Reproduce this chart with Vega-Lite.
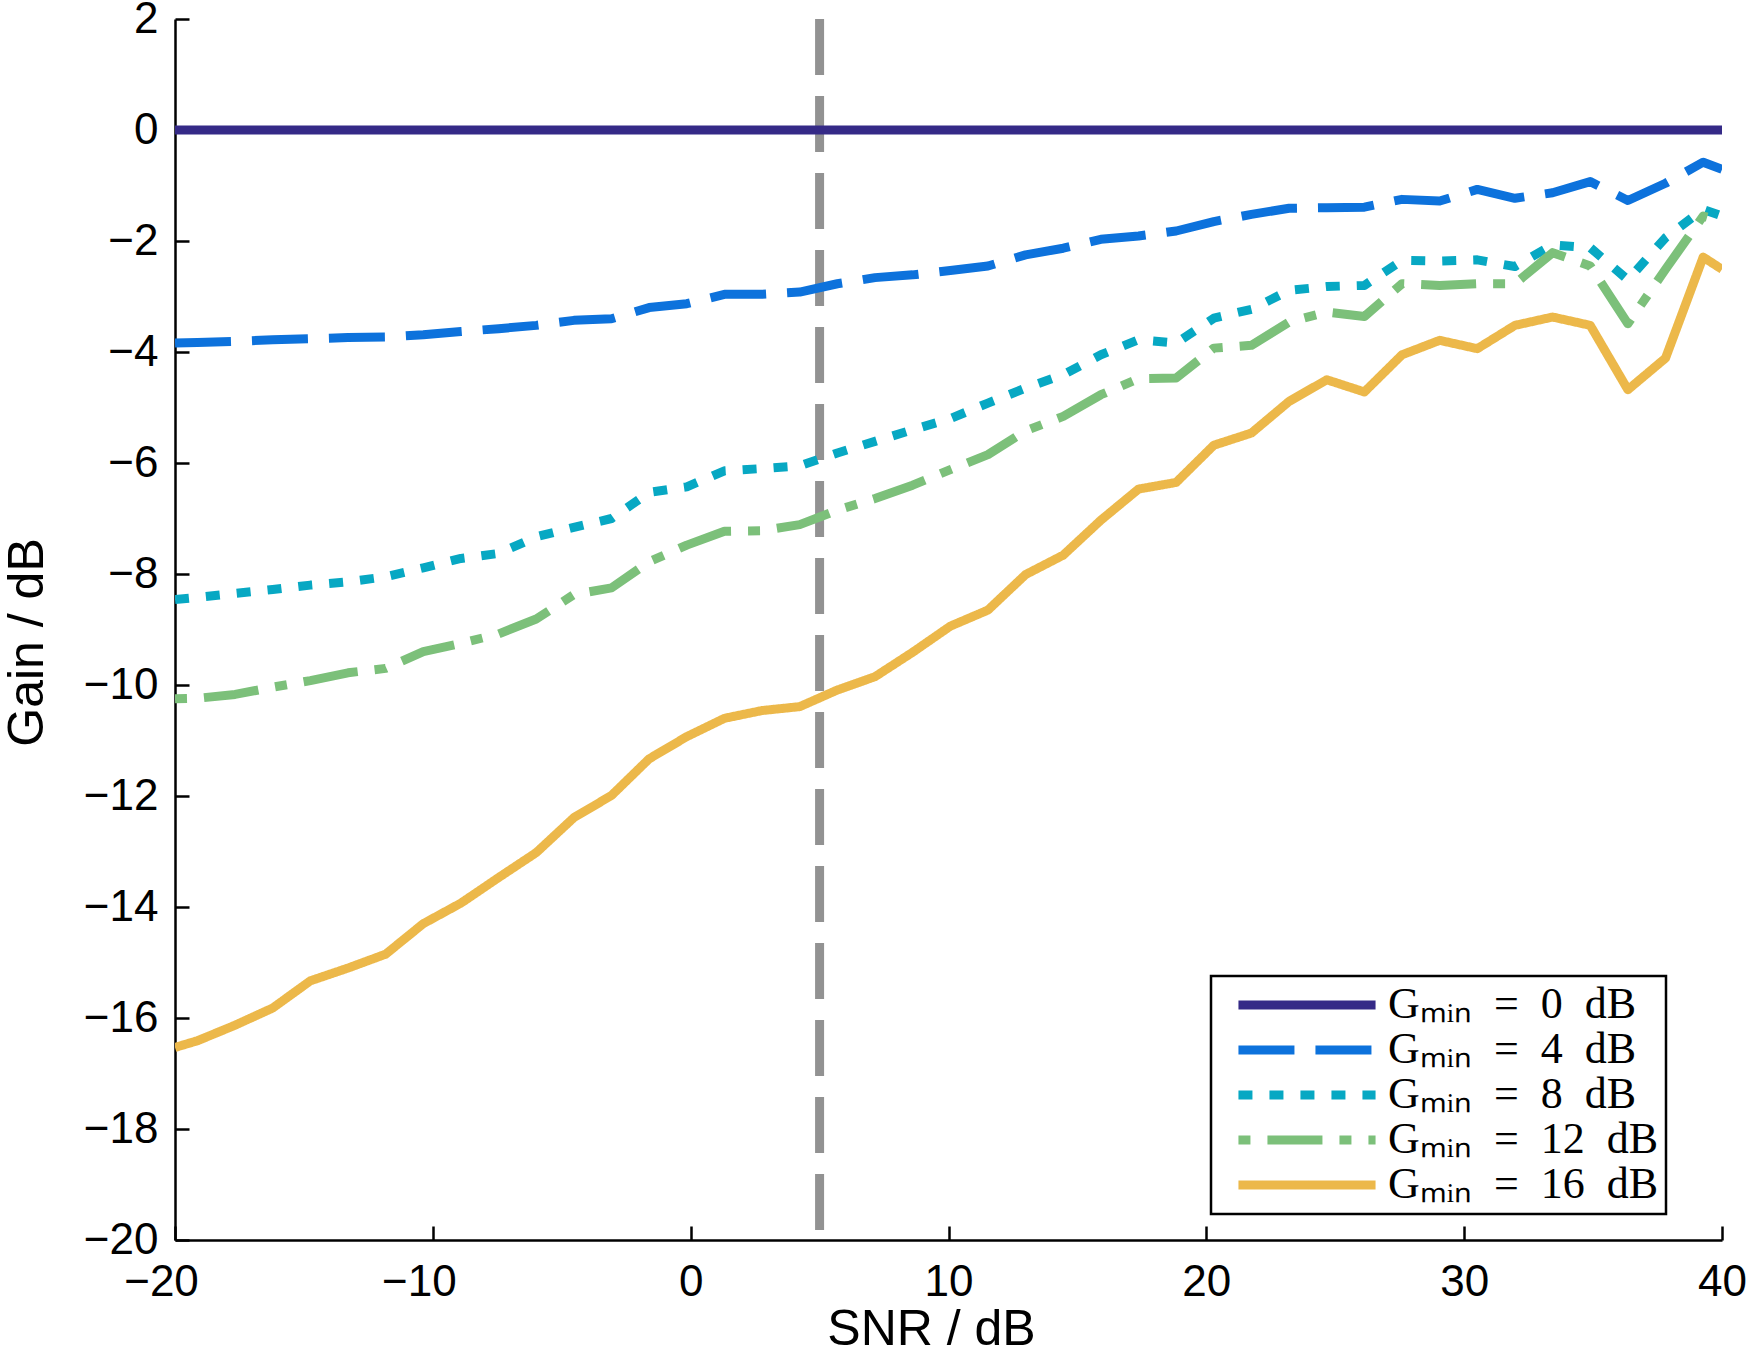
{
  "$schema": "https://vega.github.io/schema/vega-lite/v6.json",
  "width": 1547,
  "height": 1221,
  "autosize": {"type": "none"},
  "padding": {"left": 175, "top": 19, "right": 28, "bottom": 114},
  "background": "white",
  "config": {
    "view": {"stroke": null},
    "axis": {
      "grid": false,
      "domainColor": "black",
      "domainWidth": 2.5,
      "tickColor": "black",
      "tickWidth": 2.5,
      "tickSize": -14,
      "labelFont": "Liberation Sans",
      "labelFontSize": 44,
      "labelColor": "black",
      "labelFlush": false,
      "titleFont": "Liberation Sans",
      "titleFontSize": 50,
      "titleFontWeight": "normal",
      "titleColor": "black"
    }
  },
  "layer": [
    {
      "data": {"values": [{"snr": 5}]},
      "mark": {"type": "rule", "color": "#929292", "strokeWidth": 9, "strokeDash": [56, 21]},
      "encoding": {
        "x": {"field": "snr", "type": "quantitative", "scale": {"domain": [-20, 40], "nice": false, "zero": false}}
      }
    },
    {
      "data": {
        "values": [
          {"snr": -20, "Gₘᵢₙ = 0 dB": 0, "Gₘᵢₙ = 4 dB": -3.84, "Gₘᵢₙ = 8 dB": -8.46, "Gₘᵢₙ = 12 dB": -10.25, "Gₘᵢₙ = 16 dB": -16.53},
          {"snr": -19.13, "Gₘᵢₙ = 0 dB": 0, "Gₘᵢₙ = 4 dB": -3.83, "Gₘᵢₙ = 8 dB": -8.42, "Gₘᵢₙ = 12 dB": -10.24, "Gₘᵢₙ = 16 dB": -16.41},
          {"snr": -17.67, "Gₘᵢₙ = 0 dB": 0, "Gₘᵢₙ = 4 dB": -3.81, "Gₘᵢₙ = 8 dB": -8.35, "Gₘᵢₙ = 12 dB": -10.17, "Gₘᵢₙ = 16 dB": -16.13},
          {"snr": -16.21, "Gₘᵢₙ = 0 dB": 0, "Gₘᵢₙ = 4 dB": -3.78, "Gₘᵢₙ = 8 dB": -8.28, "Gₘᵢₙ = 12 dB": -10.04, "Gₘᵢₙ = 16 dB": -15.82},
          {"snr": -14.75, "Gₘᵢₙ = 0 dB": 0, "Gₘᵢₙ = 4 dB": -3.76, "Gₘᵢₙ = 8 dB": -8.2, "Gₘᵢₙ = 12 dB": -9.92, "Gₘᵢₙ = 16 dB": -15.33},
          {"snr": -13.29, "Gₘᵢₙ = 0 dB": 0, "Gₘᵢₙ = 4 dB": -3.74, "Gₘᵢₙ = 8 dB": -8.14, "Gₘᵢₙ = 12 dB": -9.78, "Gₘᵢₙ = 16 dB": -15.1},
          {"snr": -11.83, "Gₘᵢₙ = 0 dB": 0, "Gₘᵢₙ = 4 dB": -3.73, "Gₘᵢₙ = 8 dB": -8.05, "Gₘᵢₙ = 12 dB": -9.7, "Gₘᵢₙ = 16 dB": -14.85},
          {"snr": -10.37, "Gₘᵢₙ = 0 dB": 0, "Gₘᵢₙ = 4 dB": -3.69, "Gₘᵢₙ = 8 dB": -7.89, "Gₘᵢₙ = 12 dB": -9.4, "Gₘᵢₙ = 16 dB": -14.3},
          {"snr": -8.91, "Gₘᵢₙ = 0 dB": 0, "Gₘᵢₙ = 4 dB": -3.63, "Gₘᵢₙ = 8 dB": -7.72, "Gₘᵢₙ = 12 dB": -9.25, "Gₘᵢₙ = 16 dB": -13.93},
          {"snr": -7.45, "Gₘᵢₙ = 0 dB": 0, "Gₘᵢₙ = 4 dB": -3.58, "Gₘᵢₙ = 8 dB": -7.63, "Gₘᵢₙ = 12 dB": -9.08, "Gₘᵢₙ = 16 dB": -13.47},
          {"snr": -5.99, "Gₘᵢₙ = 0 dB": 0, "Gₘᵢₙ = 4 dB": -3.52, "Gₘᵢₙ = 8 dB": -7.33, "Gₘᵢₙ = 12 dB": -8.81, "Gₘᵢₙ = 16 dB": -13.02},
          {"snr": -4.53, "Gₘᵢₙ = 0 dB": 0, "Gₘᵢₙ = 4 dB": -3.43, "Gₘᵢₙ = 8 dB": -7.16, "Gₘᵢₙ = 12 dB": -8.37, "Gₘᵢₙ = 16 dB": -12.39},
          {"snr": -3.07, "Gₘᵢₙ = 0 dB": 0, "Gₘᵢₙ = 4 dB": -3.4, "Gₘᵢₙ = 8 dB": -7.0, "Gₘᵢₙ = 12 dB": -8.25, "Gₘᵢₙ = 16 dB": -11.99},
          {"snr": -1.61, "Gₘᵢₙ = 0 dB": 0, "Gₘᵢₙ = 4 dB": -3.2, "Gₘᵢₙ = 8 dB": -6.53, "Gₘᵢₙ = 12 dB": -7.78, "Gₘᵢₙ = 16 dB": -11.33},
          {"snr": -0.15, "Gₘᵢₙ = 0 dB": 0, "Gₘᵢₙ = 4 dB": -3.13, "Gₘᵢₙ = 8 dB": -6.43, "Gₘᵢₙ = 12 dB": -7.48, "Gₘᵢₙ = 16 dB": -10.93},
          {"snr": 1.31, "Gₘᵢₙ = 0 dB": 0, "Gₘᵢₙ = 4 dB": -2.96, "Gₘᵢₙ = 8 dB": -6.14, "Gₘᵢₙ = 12 dB": -7.23, "Gₘᵢₙ = 16 dB": -10.6},
          {"snr": 2.77, "Gₘᵢₙ = 0 dB": 0, "Gₘᵢₙ = 4 dB": -2.96, "Gₘᵢₙ = 8 dB": -6.1, "Gₘᵢₙ = 12 dB": -7.22, "Gₘᵢₙ = 16 dB": -10.46},
          {"snr": 4.23, "Gₘᵢₙ = 0 dB": 0, "Gₘᵢₙ = 4 dB": -2.92, "Gₘᵢₙ = 8 dB": -6.05, "Gₘᵢₙ = 12 dB": -7.11, "Gₘᵢₙ = 16 dB": -10.39},
          {"snr": 5.69, "Gₘᵢₙ = 0 dB": 0, "Gₘᵢₙ = 4 dB": -2.77, "Gₘᵢₙ = 8 dB": -5.82, "Gₘᵢₙ = 12 dB": -6.85, "Gₘᵢₙ = 16 dB": -10.09},
          {"snr": 7.15, "Gₘᵢₙ = 0 dB": 0, "Gₘᵢₙ = 4 dB": -2.66, "Gₘᵢₙ = 8 dB": -5.61, "Gₘᵢₙ = 12 dB": -6.64, "Gₘᵢₙ = 16 dB": -9.85},
          {"snr": 8.61, "Gₘᵢₙ = 0 dB": 0, "Gₘᵢₙ = 4 dB": -2.61, "Gₘᵢₙ = 8 dB": -5.4, "Gₘᵢₙ = 12 dB": -6.4, "Gₘᵢₙ = 16 dB": -9.41},
          {"snr": 10.07, "Gₘᵢₙ = 0 dB": 0, "Gₘᵢₙ = 4 dB": -2.53, "Gₘᵢₙ = 8 dB": -5.2, "Gₘᵢₙ = 12 dB": -6.12, "Gₘᵢₙ = 16 dB": -8.94},
          {"snr": 11.53, "Gₘᵢₙ = 0 dB": 0, "Gₘᵢₙ = 4 dB": -2.45, "Gₘᵢₙ = 8 dB": -4.92, "Gₘᵢₙ = 12 dB": -5.85, "Gₘᵢₙ = 16 dB": -8.65},
          {"snr": 12.99, "Gₘᵢₙ = 0 dB": 0, "Gₘᵢₙ = 4 dB": -2.25, "Gₘᵢₙ = 8 dB": -4.65, "Gₘᵢₙ = 12 dB": -5.42, "Gₘᵢₙ = 16 dB": -8.01},
          {"snr": 14.45, "Gₘᵢₙ = 0 dB": 0, "Gₘᵢₙ = 4 dB": -2.13, "Gₘᵢₙ = 8 dB": -4.41, "Gₘᵢₙ = 12 dB": -5.16, "Gₘᵢₙ = 16 dB": -7.66},
          {"snr": 15.91, "Gₘᵢₙ = 0 dB": 0, "Gₘᵢₙ = 4 dB": -1.97, "Gₘᵢₙ = 8 dB": -4.05, "Gₘᵢₙ = 12 dB": -4.77, "Gₘᵢₙ = 16 dB": -7.03},
          {"snr": 17.37, "Gₘᵢₙ = 0 dB": 0, "Gₘᵢₙ = 4 dB": -1.91, "Gₘᵢₙ = 8 dB": -3.78, "Gₘᵢₙ = 12 dB": -4.48, "Gₘᵢₙ = 16 dB": -6.47},
          {"snr": 18.83, "Gₘᵢₙ = 0 dB": 0, "Gₘᵢₙ = 4 dB": -1.82, "Gₘᵢₙ = 8 dB": -3.84, "Gₘᵢₙ = 12 dB": -4.47, "Gₘᵢₙ = 16 dB": -6.35},
          {"snr": 20.29, "Gₘᵢₙ = 0 dB": 0, "Gₘᵢₙ = 4 dB": -1.65, "Gₘᵢₙ = 8 dB": -3.39, "Gₘᵢₙ = 12 dB": -3.93, "Gₘᵢₙ = 16 dB": -5.68},
          {"snr": 21.75, "Gₘᵢₙ = 0 dB": 0, "Gₘᵢₙ = 4 dB": -1.52, "Gₘᵢₙ = 8 dB": -3.23, "Gₘᵢₙ = 12 dB": -3.88, "Gₘᵢₙ = 16 dB": -5.46},
          {"snr": 23.21, "Gₘᵢₙ = 0 dB": 0, "Gₘᵢₙ = 4 dB": -1.41, "Gₘᵢₙ = 8 dB": -2.89, "Gₘᵢₙ = 12 dB": -3.46, "Gₘᵢₙ = 16 dB": -4.89},
          {"snr": 24.67, "Gₘᵢₙ = 0 dB": 0, "Gₘᵢₙ = 4 dB": -1.4, "Gₘᵢₙ = 8 dB": -2.82, "Gₘᵢₙ = 12 dB": -3.28, "Gₘᵢₙ = 16 dB": -4.5},
          {"snr": 26.13, "Gₘᵢₙ = 0 dB": 0, "Gₘᵢₙ = 4 dB": -1.39, "Gₘᵢₙ = 8 dB": -2.8, "Gₘᵢₙ = 12 dB": -3.36, "Gₘᵢₙ = 16 dB": -4.72},
          {"snr": 27.59, "Gₘᵢₙ = 0 dB": 0, "Gₘᵢₙ = 4 dB": -1.25, "Gₘᵢₙ = 8 dB": -2.35, "Gₘᵢₙ = 12 dB": -2.77, "Gₘᵢₙ = 16 dB": -4.05},
          {"snr": 29.05, "Gₘᵢₙ = 0 dB": 0, "Gₘᵢₙ = 4 dB": -1.28, "Gₘᵢₙ = 8 dB": -2.36, "Gₘᵢₙ = 12 dB": -2.8, "Gₘᵢₙ = 16 dB": -3.79},
          {"snr": 30.51, "Gₘᵢₙ = 0 dB": 0, "Gₘᵢₙ = 4 dB": -1.07, "Gₘᵢₙ = 8 dB": -2.34, "Gₘᵢₙ = 12 dB": -2.77, "Gₘᵢₙ = 16 dB": -3.94},
          {"snr": 31.97, "Gₘᵢₙ = 0 dB": 0, "Gₘᵢₙ = 4 dB": -1.23, "Gₘᵢₙ = 8 dB": -2.46, "Gₘᵢₙ = 12 dB": -2.77, "Gₘᵢₙ = 16 dB": -3.52},
          {"snr": 33.43, "Gₘᵢₙ = 0 dB": 0, "Gₘᵢₙ = 4 dB": -1.13, "Gₘᵢₙ = 8 dB": -2.07, "Gₘᵢₙ = 12 dB": -2.21, "Gₘᵢₙ = 16 dB": -3.37},
          {"snr": 34.89, "Gₘᵢₙ = 0 dB": 0, "Gₘᵢₙ = 4 dB": -0.93, "Gₘᵢₙ = 8 dB": -2.12, "Gₘᵢₙ = 12 dB": -2.45, "Gₘᵢₙ = 16 dB": -3.52},
          {"snr": 36.35, "Gₘᵢₙ = 0 dB": 0, "Gₘᵢₙ = 4 dB": -1.27, "Gₘᵢₙ = 8 dB": -2.7, "Gₘᵢₙ = 12 dB": -3.49, "Gₘᵢₙ = 16 dB": -4.68},
          {"snr": 37.81, "Gₘᵢₙ = 0 dB": 0, "Gₘᵢₙ = 4 dB": -0.96, "Gₘᵢₙ = 8 dB": -1.94, "Gₘᵢₙ = 12 dB": -2.51, "Gₘᵢₙ = 16 dB": -4.11},
          {"snr": 39.27, "Gₘᵢₙ = 0 dB": 0, "Gₘᵢₙ = 4 dB": -0.58, "Gₘᵢₙ = 8 dB": -1.43, "Gₘᵢₙ = 12 dB": -1.55, "Gₘᵢₙ = 16 dB": -2.29},
          {"snr": 40, "Gₘᵢₙ = 0 dB": 0, "Gₘᵢₙ = 4 dB": -0.71, "Gₘᵢₙ = 8 dB": -1.55, "Gₘᵢₙ = 12 dB": -1.65, "Gₘᵢₙ = 16 dB": -2.51}
        ]
      },
      "transform": [
        {"fold": ["Gₘᵢₙ = 0 dB", "Gₘᵢₙ = 4 dB", "Gₘᵢₙ = 8 dB", "Gₘᵢₙ = 12 dB", "Gₘᵢₙ = 16 dB"], "as": ["series", "gain"]}
      ],
      "mark": {"type": "line", "strokeWidth": 9, "strokeJoin": "round", "clip": true},
      "encoding": {
        "x": {
          "field": "snr",
          "type": "quantitative",
          "scale": {"domain": [-20, 40], "nice": false, "zero": false},
          "axis": {
            "title": "SNR / dB",
            "values": [-20, -10, 0, 10, 20, 30, 40],
            "labelPadding": 34,
            "labelOffset": {"condition": {"test": "datum.value < 0", "value": -14}, "value": 0},
            "titleX": 756,
            "titleY": 104,
            "titleAlign": "center",
            "titleBaseline": "alphabetic"
          }
        },
        "y": {
          "field": "gain",
          "type": "quantitative",
          "scale": {"domain": [-20, 2], "nice": false, "zero": false},
          "axis": {
            "title": "Gain / dB",
            "values": [-20, -18, -16, -14, -12, -10, -8, -6, -4, -2, 0, 2],
            "labelPadding": 31,
            "titleX": -133,
            "titleY": 623,
            "titleAngle": 270,
            "titleAlign": "center",
            "titleBaseline": "alphabetic"
          }
        },
        "color": {
          "field": "series",
          "type": "nominal",
          "scale": {
            "domain": ["Gₘᵢₙ = 0 dB", "Gₘᵢₙ = 4 dB", "Gₘᵢₙ = 8 dB", "Gₘᵢₙ = 12 dB", "Gₘᵢₙ = 16 dB"],
            "range": ["#352A87", "#0D72DC", "#07A8C3", "#7CC07A", "#ECB84A"]
          },
          "legend": {
            "title": null,
            "orient": "none",
            "legendX": 1036,
            "legendY": 957,
            "padding": 7,
            "strokeColor": "black",
            "fillColor": "white",
            "symbolType": "M-4.57,0L4.57,0",
            "symbolSize": 900,
            "symbolStrokeWidth": 9,
            "symbolOffset": 67,
            "labelOffset": 59,
            "labelLimit": 600,
            "labelFont": "Liberation Serif",
            "labelFontSize": 44,
            "labelColor": "black",
            "labelExpr": "replace(replace(datum.label, ' = ', '\u2002=\u2002'), ' dB', '\u2002dB') + '\u2002\u2009'",
            "rowPadding": 1,
            "encode": {"legend": {"update": {"strokeWidth": {"value": 2.5}}}}
          }
        },
        "strokeDash": {
          "field": "series",
          "type": "nominal",
          "scale": {
            "domain": ["Gₘᵢₙ = 0 dB", "Gₘᵢₙ = 4 dB", "Gₘᵢₙ = 8 dB", "Gₘᵢₙ = 12 dB", "Gₘᵢₙ = 16 dB"],
            "range": [[1, 0], [56, 21], [14, 17], [12, 17, 55, 17], [1, 0]]
          },
          "legend": {
            "title": null,
            "orient": "none",
            "legendX": 1036,
            "legendY": 957,
            "padding": 7,
            "strokeColor": "black",
            "fillColor": "white",
            "symbolType": "M-4.57,0L4.57,0",
            "symbolSize": 900,
            "symbolStrokeWidth": 9,
            "symbolOffset": 67,
            "labelOffset": 59,
            "labelLimit": 600,
            "labelFont": "Liberation Serif",
            "labelFontSize": 44,
            "labelColor": "black",
            "labelExpr": "replace(replace(datum.label, ' = ', '\u2002=\u2002'), ' dB', '\u2002dB') + '\u2002\u2009'",
            "rowPadding": 1,
            "encode": {"legend": {"update": {"strokeWidth": {"value": 2.5}}}}
          }
        }
      }
    }
  ]
}
